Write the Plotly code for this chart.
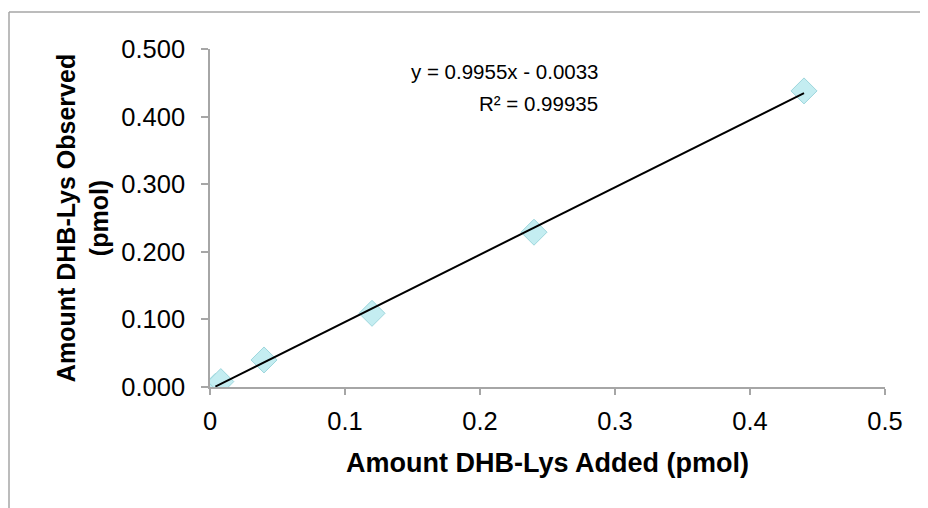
import plotly.graph_objects as go

# Data
x_added = [0.004, 0.008, 0.04, 0.12, 0.24, 0.44]
y_observed = [0.001, 0.008, 0.040, 0.109, 0.229, 0.438]
slope = 0.9955
intercept = -0.0033
eq_text = "y = 0.9955x - 0.0033"
r2_text = "R² = 0.99935"
x_title = "Amount DHB-Lys Added (pmol)"
y_title = "Amount DHB-Lys Observed<br>(pmol)"

W, H = 920, 500
ml, mr, mt, mb = 202, 43, 41, 121
pw, ph = W - ml - mr, H - mt - mb

FONT = "Liberation Sans, Arial, sans-serif"
GREY = "#a6a6a6"

fig = go.Figure()

tx = [min(x_added), max(x_added)]
ty = [slope * v + intercept for v in tx]
fig.add_trace(go.Scatter(
    x=x_added, y=y_observed, mode="markers",
    marker=dict(symbol="diamond", size=20, color="#c4edf1",
                line=dict(color="#9dd6dc", width=1)),
    showlegend=False, hoverinfo="x+y"))
fig.add_trace(go.Scatter(
    x=tx, y=ty, mode="lines", line=dict(color="black", width=2),
    showlegend=False, hoverinfo="skip"))

def px_x(p):
    return (p - ml) / pw

def px_y(p):
    return (H - mb - p) / ph

# chart frame (top and left edges)
fig.add_shape(type="line", xref="paper", yref="paper",
              x0=px_x(1), y0=px_y(4), x1=px_x(W + 2), y1=px_y(4),
              line=dict(color=GREY, width=1.5))
fig.add_shape(type="line", xref="paper", yref="paper",
              x0=px_x(1), y0=px_y(4), x1=px_x(1), y1=px_y(H + 2),
              line=dict(color=GREY, width=1.5))

fig.add_annotation(text=eq_text, x=0.289, y=0.467, xref="x", yref="y",
                   xanchor="right", yanchor="middle", showarrow=False,
                   font=dict(family=FONT, size=20.5, color="black"))
fig.add_annotation(text=r2_text, x=0.289, y=0.419, xref="x", yref="y",
                   xanchor="right", yanchor="middle", showarrow=False,
                   font=dict(family=FONT, size=20.5, color="black"))

axis_common = dict(
    showgrid=False, zeroline=False, showline=True, linecolor=GREY, linewidth=1.5,
    ticks="outside", tickcolor=GREY, tickwidth=1.5,
    tickfont=dict(family=FONT, size=25.5, color="black"),
)

fig.update_layout(
    width=W, height=H,
    margin=dict(l=ml, r=mr, t=mt, b=mb),
    paper_bgcolor="white", plot_bgcolor="white",
    xaxis=dict(range=[0, 0.5], dtick=0.1, tick0=0, ticklen=6,
               ticklabelstandoff=5,
               title=dict(text=x_title, standoff=19,
                          font=dict(family=FONT, size=27, color="black", weight="bold")),
               **axis_common),
    yaxis=dict(range=[0, 0.5], dtick=0.1, tick0=0, tickformat=".3f", ticklen=7,
               ticklabelstandoff=11,
               title=dict(text=y_title, standoff=6,
                          font=dict(family=FONT, size=25, color="black", weight="bold")),
               **axis_common),
)

fig.write_html("out.html")
